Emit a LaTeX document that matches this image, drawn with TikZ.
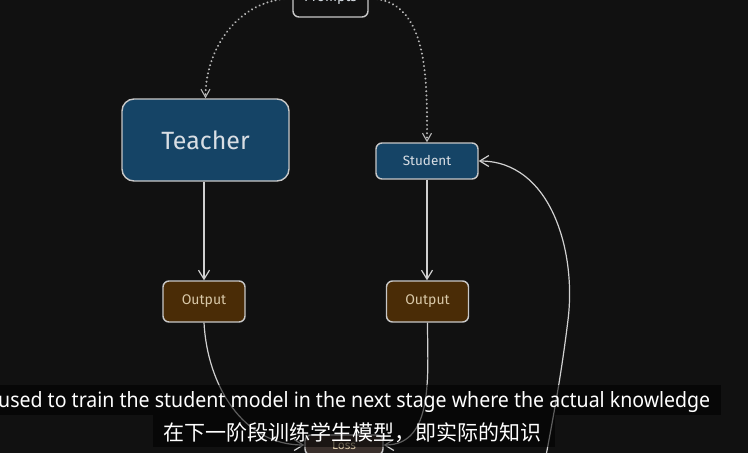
\documentclass[tikz,border=0pt]{standalone}
\usepackage{fontspec}
\usepackage{graphicx}
\setmainfont{Fira Sans}
\newfontfamily\subfont{Noto Sans}
\newfontfamily\cjk{Noto Sans CJK SC}
\usetikzlibrary{arrows.meta}
\definecolor{bg}{HTML}{111111}
\definecolor{bluefill}{HTML}{154466}
\definecolor{brownfill}{HTML}{4A2C06}
\definecolor{lossfill}{HTML}{3A302C}
\definecolor{edge}{HTML}{C8C8C8}
\definecolor{wire}{HTML}{D0D0D0}
\definecolor{dotc}{HTML}{B8B8B8}
\definecolor{bluetext}{HTML}{D8DEE4}
\definecolor{browntext}{HTML}{D8C8A8}
\tikzset{
  box/.style={draw=edge, line width=1.4pt, inner sep=0pt, align=center},
  bluebox/.style={box, fill=bluefill, text=bluetext},
  brownbox/.style={box, fill=brownfill, text=browntext, rounded corners=6pt,
    minimum width=82pt, minimum height=41pt, font=\fontsize{14}{16}\selectfont},
  wirearrow/.style={draw=wire, line width=1.2pt,
    -{Straight Barb[length=9pt,width=11pt,line width=1.2pt]}},
  dotarrow/.style={draw=dotc, line width=2.2pt, line cap=round,
    dash pattern=on 0.01pt off 4.2pt,
    -{Straight Barb[length=8pt,width=9pt,line width=1.1pt]}},
  band/.style={fill=black, fill opacity=0.55, draw=none}
}
\begin{document}
\begin{tikzpicture}[x=1pt,y=-1pt]
\useasboundingbox (0,0) rectangle (748,453);
\clip (0,0) rectangle (748,453);
\fill[bg] (0,0) rectangle (748,453);

\node[box, fill=bg, text=bluetext, rounded corners=6pt, minimum width=75pt, minimum height=37pt,
  font=\fontsize{14}{16}\selectfont] (prompts) at (330.5,-1.5) {Prompts};
\node[bluebox, rounded corners=12pt, minimum width=167pt, minimum height=82pt,
  font=\fontsize{25}{29}\selectfont] (teacher) at (205.5,140) {Teacher};
\node[bluebox, rounded corners=6pt, minimum width=102pt, minimum height=36pt,
  font=\fontsize{13.5}{16}\selectfont] (student) at (427,161) {Student};
\node[brownbox] (out1) at (204,301.5) {Output};
\node[brownbox] (out2) at (427.5,301.5) {Output};
\node[box, fill=lossfill, text=browntext, rounded corners=6pt, minimum width=78pt, minimum height=20pt,
  font=\fontsize{12}{14}\selectfont] (loss) at (344,445) {Loss};
\coordinate (loopb) at (538,500);
\coordinate (loopc) at (568,320);

\draw[dotarrow] (prompts.west) to[out=180,in=90] (teacher.north);
\draw[dotarrow] (prompts.east) to[out=0,in=90] (student.north);
\draw[wirearrow] (teacher.south -| out1.north) -- (out1.north);
\draw[wirearrow] (student.south) -- (student.south |- out2.north);
\draw[wirearrow] (out1.south) to[out=-87,in=180] (loss.west);
\draw[wirearrow] (out2.south) to[out=-90,in=0] (loss.east);
\draw[wirearrow] (loss.south) to[out=-90,in=-100] (loopb) to[out=80,in=-97] (loopc)
  to[out=83,in=0] (student.east);

\path[band] (0,385) rectangle (721,415);
\path[band] (153,415) rectangle (555,447);
\node[text=white, inner sep=0pt, anchor=base west] (eng) at (-2,407)
  {\resizebox{712pt}{16pt}{\subfont used to train the student model in the next stage where the actual knowledge}};
\node[text=white, inner sep=0pt, anchor=base west, font=\cjk\fontsize{21}{24}\selectfont] (chn) at (163,440)
  {在下一阶段训练学生模型，即实际的知识};
\end{tikzpicture}
\end{document}
